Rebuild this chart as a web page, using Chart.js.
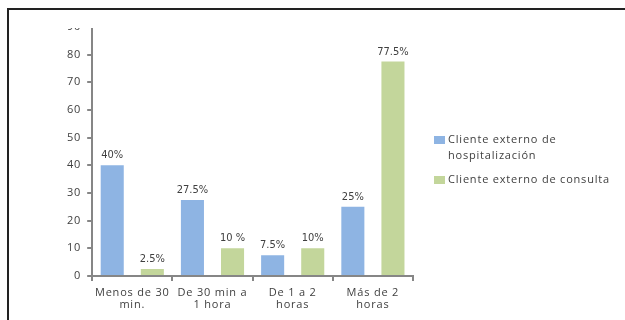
<!DOCTYPE html>
<html>
<head>
<meta charset="utf-8">
<script src="https://cdn.jsdelivr.net/npm/chart.js@4/dist/chart.umd.min.js"></script>
<style>
  html, body { margin: 0; padding: 0; background: #fff; overflow: hidden; }
  body { width: 625px; height: 320px; position: relative; }
  .frame { position: absolute; left: 7px; top: 8px; width: 660px; height: 340px; border: 2px solid #222; box-sizing: border-box; }
  .clip { position: absolute; left: 9px; top: 28px; width: 616px; height: 292px; overflow: hidden; }
  #chart { position: absolute; left: 0; top: -13px; }
</style>
</head>
<body>
<div class="frame"></div>
<div class="clip"><canvas id="chart" width="616" height="310"></canvas></div>
<script>
  // tiempos de espera
  var categories = [["Menos de 30", "min."], ["De 30 min a", "1 hora"], ["De 1 a 2", "horas"], ["Más de 2", "horas"]];
  var seriesNames = ["Cliente externo de hospitalización", "Cliente externo de consulta"];
  var legendLines = [["Cliente externo de", "hospitalización"], ["Cliente externo de consulta"]];
  var hospitalizacion = [40, 27.5, 7.5, 25];
  var consulta = [2.5, 10, 10, 77.5];
  var hospLabels = ["40%", "27.5%", "7.5%", "25%"];
  var consLabels = ["2.5%", "10 %", "10%", "77.5%"];
  var yTicks = [0, 10, 20, 30, 40, 50, 60, 70, 80, 90];

  var textColor = "#404040";
  var axisColor = "#868686";
  var colors = ["#8EB4E3", "#C3D69B"];
  var fontFamily = "'Open Sans', sans-serif";
  var tickFont = { family: fontFamily, size: 11, lineHeight: "12px" };
  var letterGap = '0.8px';

  var spacing = {
    id: 'spacing',
    beforeUpdate: function (chart) { chart.ctx.letterSpacing = letterGap; },
    beforeLayout: function (chart) { chart.ctx.letterSpacing = letterGap; },
    beforeDraw: function (chart) { chart.ctx.letterSpacing = letterGap; }
  };

  var valueLabels = {
    id: 'valueLabels',
    afterDatasetsDraw: function (chart) {
      var ctx = chart.ctx;
      var texts = [hospLabels, consLabels];
      ctx.save();
      ctx.letterSpacing = '0px';
      ctx.font = "11px 'Liberation Sans Narrow', 'DejaVu Sans Condensed', sans-serif";
      ctx.fillStyle = textColor;
      ctx.textAlign = 'center';
      ctx.textBaseline = 'alphabetic';
      chart.data.datasets.forEach(function (ds, d) {
        chart.getDatasetMeta(d).data.forEach(function (bar, i) {
          ctx.fillText(texts[d][i], bar.x, bar.y - 7);
        });
      });
      ctx.restore();
    }
  };

  // leyenda a la derecha, con texto en dos lineas
  var sideLegend = {
    id: 'sideLegend',
    afterDraw: function (chart) {
      var ctx = chart.ctx;
      var area = chart.chartArea;
      var x = area.right + 21;
      var y = area.top + 113;
      ctx.save();
      ctx.letterSpacing = letterGap;
      ctx.font = "11px " + fontFamily;
      ctx.textBaseline = 'middle';
      ctx.textAlign = 'left';
      legendLines.forEach(function (lines, i) {
        ctx.fillStyle = chart.data.datasets[i].backgroundColor;
        ctx.fillRect(x, y - 4, 11, 8);
        ctx.fillStyle = textColor;
        lines.forEach(function (line, j) {
          ctx.fillText(line, x + 14, y + j * 16);
        });
        y += lines.length * 16 + 8;
      });
      ctx.restore();
    }
  };

  new Chart(document.getElementById('chart').getContext('2d'), {
    type: 'bar',
    data: {
      labels: categories,
      datasets: [
        { label: seriesNames[0], data: hospitalizacion, backgroundColor: colors[0] },
        { label: seriesNames[1], data: consulta, backgroundColor: colors[1] }
      ]
    },
    options: {
      responsive: false,
      animation: false,
      layout: { padding: { top: 9, right: 212, bottom: 8, left: 52 } },
      datasets: { bar: { categoryPercentage: 1, barPercentage: 0.575 } },
      scales: {
        x: {
          grid: { drawOnChartArea: false, drawTicks: true, tickLength: 5, color: axisColor, lineWidth: 2 },
          border: { display: true, color: axisColor, width: 2 },
          ticks: { color: textColor, font: tickFont, padding: 6, maxRotation: 0, autoSkip: false }
        },
        y: {
          min: 0,
          max: 90,
          afterBuildTicks: function (axis) {
            axis.ticks = yTicks.map(function (v) { return { value: v }; });
          },
          grid: { drawOnChartArea: false, drawTicks: true, tickLength: 5, color: axisColor, lineWidth: 2 },
          border: { display: true, color: axisColor, width: 2 },
          ticks: { color: textColor, font: tickFont, padding: 6 }
        }
      },
      plugins: {
        tooltip: { enabled: false },
        legend: { display: false }
      }
    },
    plugins: [spacing, valueLabels, sideLegend]
  });
</script>
</body>
</html>
